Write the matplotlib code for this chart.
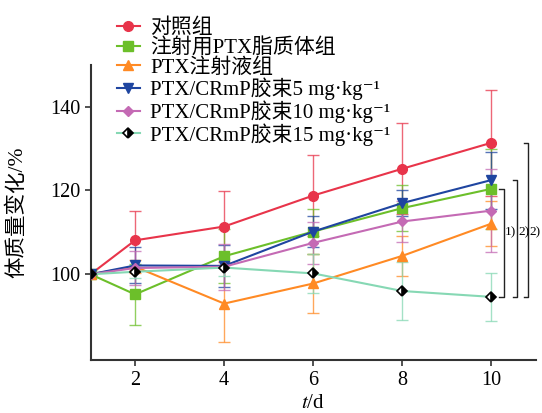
import numpy as np
import matplotlib.pyplot as plt

plt.rcParams['font.family'] = ['Liberation Serif', 'Noto Sans CJK SC', 'DejaVu Serif']
plt.rcParams['mathtext.fontset'] = 'stix'

# days (day 0 drawn at x=1)
days = [1, 2, 4, 6, 8, 10]

names = ['对照组', '注射用PTX脂质体组', 'PTX注射液组',
         'PTX/CRmP胶束5 mg·kg⁻¹', 'PTX/CRmP胶束10 mg·kg⁻¹',
         'PTX/CRmP胶束15 mg·kg⁻¹']

ctrl = [100, 108.1, 111.4, 118.8, 125.2, 131.4]
ctrl_err = [0, 7.0, 8.5, 9.6, 10.8, 12.6]
lipo = [100, 95.2, 104.3, 110.2, 115.8, 120.4]
lipo_err = [0, 7.3, 6.4, 5.4, 5.5, 9.5]
inj = [100, 101.8, 93.0, 97.8, 104.4, 112.1]
inj_err = [0, 1.5, 9.2, 7.0, 4.7, 5.4]
m5 = [100, 102.1, 102.0, 110.2, 117.0, 122.5]
m5_err = [0, 4.3, 5.0, 3.6, 3.0, 6.8]
m10 = [100, 101.5, 101.8, 107.5, 112.6, 115.2]
m10_err = [0, 4.0, 5.5, 5.0, 5.0, 10.0]
m15 = [100, 100.6, 101.6, 100.2, 96.0, 94.6]
m15_err = [0, 1.5, 2.0, 4.7, 7.0, 5.7]

series = [ctrl, lipo, inj, m5, m10, m15]
errs = [ctrl_err, lipo_err, inj_err, m5_err, m10_err, m15_err]
colors = ['#e8344a', '#6cbf2a', '#ff8a24', '#1f45a0', '#c46ab4', '#86d8b4']
markers = ['o', 's', '^', 'v', 'D', 'D']
msizes = [7, 6.5, 7, 7, 5, 5.5]

fig = plt.figure(figsize=(5.42, 4.13), dpi=100)
ax = fig.add_axes([0.167, 0.128, 0.822, 0.715])

handles = []
for y, e, c, mk, ms, nm in zip(series, errs, colors, markers, msizes, names):
    ax.errorbar(days, y, yerr=e, fmt='none', ecolor=c, elinewidth=1,
                capsize=4, capthick=1, alpha=0.75)
    if nm == names[-1]:
        h, = ax.plot(days, y, color=c, lw=1.5, marker='D', ms=ms,
                     mec='black', mfc='black', mfcalt='white',
                     fillstyle='right', mew=1.2, label=nm, zorder=4)
    else:
        h, = ax.plot(days, y, color=c, lw=1.5, marker=mk, ms=ms,
                     mec=c, mfc=c, label=nm, zorder=3)
    handles.append(h)

ax.set_xlim(1, 11)
ax.set_ylim(79.5, 150)
ax.set_xticks([2, 4, 6, 8, 10])
ax.set_yticks([100, 120, 140])
ax.tick_params(labelsize=14.5, width=1.2, length=4, color='#333333')
for s in ['top', 'right']:
    ax.spines[s].set_visible(False)
for s in ['left', 'bottom']:
    ax.spines[s].set_linewidth(1.5)
    ax.spines[s].set_color('#333333')

ax.set_ylabel('体质量变化/%', fontsize=15.5, labelpad=16)
ax.set_xlabel('$t$/d', fontsize=15, labelpad=3)

# significance brackets
bx = [10.27, 10.58, 10.83]
tops = [lipo[-1], m5[-1], ctrl[-1]]
marks = ['1)', '2)', '2)']
bottom = m15[-1]
for x, t, lab in zip(bx, tops, marks):
    ax.plot([x - 0.1, x, x, x - 0.1], [t, t, bottom, bottom],
            color='#222222', lw=1, clip_on=False)
    ax.text(x + 0.02, 110, lab, fontsize=9.5, va='center', ha='left')

fig.legend(handles=handles, loc='upper left',
           bbox_to_anchor=(0.2, 0.975), frameon=False, fontsize=15,
           handlelength=1.1, handletextpad=0.5, labelspacing=0.0,
           borderaxespad=0)

fig.savefig('out.png', dpi=100)
